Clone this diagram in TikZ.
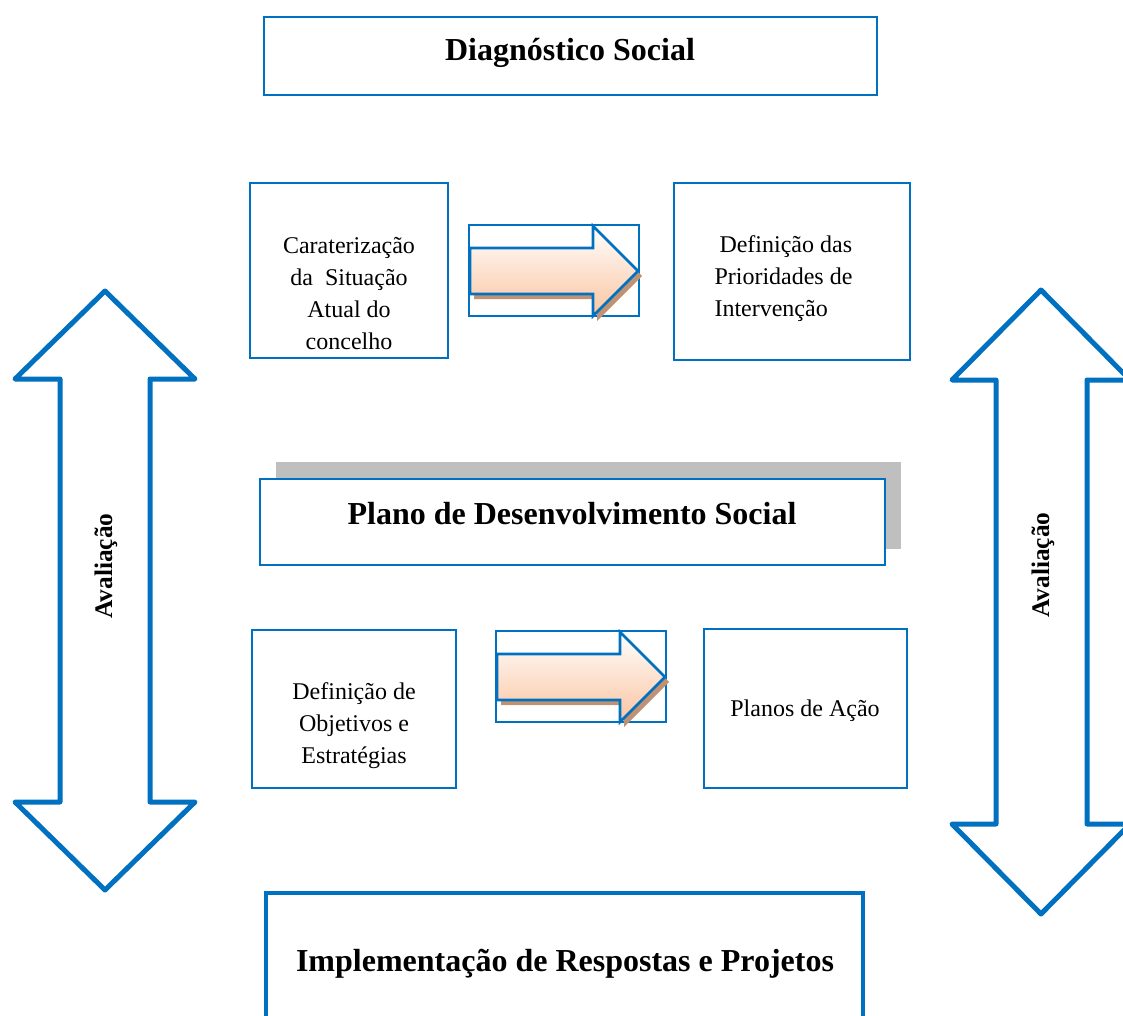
\documentclass[tikz,border=0pt]{standalone}
\usepackage{fontspec}
\setmainfont{Liberation Serif}
\definecolor{boxblue}{RGB}{0,112,192}
\definecolor{peach}{RGB}{250,196,160}
\definecolor{arrowshadow}{RGB}{192,146,116}
\definecolor{boxshadow}{RGB}{191,191,191}
\tikzset{every picture/.style={line width=0.75pt}}
\tikzset{
  box/.style={draw=boxblue, line width=1.1pt, fill=white},
  body/.style={inner sep=0.75pt, font=\fontsize{18}{24}\selectfont},
  title/.style={inner sep=0.75pt, font=\fontsize{24}{28}\selectfont\bfseries},
  sidelabel/.style={inner sep=0.75pt, rotate=90, font=\fontsize{19}{22}\selectfont\bfseries},
  blockarrow/.style={draw=boxblue, line width=2pt, top color=white, bottom color=peach},
  bigarrow/.style={draw=boxblue, line width=3.75pt, line join=round, fill=white}
}

\begin{document}
\begin{tikzpicture}[x=0.75pt,y=0.75pt,yscale=-1,xscale=1]
\useasboundingbox (0,0) rectangle (1123,1016);

%Shape: Rectangle [Diagnostico]
\draw [box] (264,17) rectangle (877,95);
% Text Node
\node [title] (diag) at (570,53) {Diagnóstico Social};

%Shape: Rectangle [Caraterizacao]
\draw [box] (250,183) rectangle (448,358);
% Text Node
\node [body, align=center] (carat) at (349,294) {Caraterização\\da\ \ Situação\\Atual do\\concelho};

%Shape: Rectangle [Prioridades]
\draw [box] (674,183) rectangle (910,360);
% Text Node
\node [body, align=left, anchor=west] (prior) at (713,279) {\hspace{5\pgflinewidth}Definição das\\Prioridades de\\Intervenção};

%Block arrow [top]
\draw [box] (469,225) rectangle (639,316);
\fill [arrowshadow] (474,253) -- (597,253) -- (597,231) -- (642,276) -- (597,321) -- (597,299) -- (474,299) -- cycle;
\draw [blockarrow] (470,248) -- (593,248) -- (593,226) -- (638,271) -- (593,316) -- (593,294) -- (470,294) -- cycle;

%Shape: Rectangle [Plano shadow]
\fill [boxshadow] (276,462) rectangle (901,549);
%Shape: Rectangle [Plano]
\draw [box] (260,479) rectangle (885,565);
% Text Node
\node [title] (plano) at (572,514) {Plano de Desenvolvimento Social};

%Shape: Rectangle [Objetivos]
\draw [box] (252,630) rectangle (456,788);
% Text Node
\node [body, align=center] (objet) at (354,726) {Definição de\\Objetivos e\\Estratégias};

%Block arrow [bottom]
\draw [box] (496,631) rectangle (666,722);
\fill [arrowshadow] (501,659) -- (624,659) -- (624,637) -- (669,682) -- (624,727) -- (624,705) -- (501,705) -- cycle;
\draw [blockarrow] (497,654) -- (620,654) -- (620,632) -- (665,677) -- (620,722) -- (620,700) -- (497,700) -- cycle;

%Shape: Rectangle [Planos]
\draw [box] (704,629) rectangle (907,788);
% Text Node
\node [body] (planos) at (805,711) {Planos de Ação};

%Double arrow [left]
\draw [bigarrow] (105,291) -- (195,379) -- (150,379) -- (150,802) -- (195,802) -- (105,890) -- (15,802) -- (60,802) -- (60,379) -- (15,379) -- cycle;
% Text Node
\node [sidelabel] (avalL) at (106,566) {Avaliação};

%Double arrow [right]
\draw [bigarrow] (1041,290) -- (1130,380) -- (1087,380) -- (1087,824) -- (1130,824) -- (1041,914) -- (952,824) -- (996,824) -- (996,380) -- (952,380) -- cycle;
% Text Node
\node [sidelabel] (avalR) at (1043,565) {Avaliação};

%Shape: Rectangle [Implementacao]
\draw [box, line width=3pt] (266,893) rectangle (863,1030);
% Text Node
\node [title] (implem) at (565,964) {Implementação de Respostas e Projetos};

\end{tikzpicture}
\end{document}
